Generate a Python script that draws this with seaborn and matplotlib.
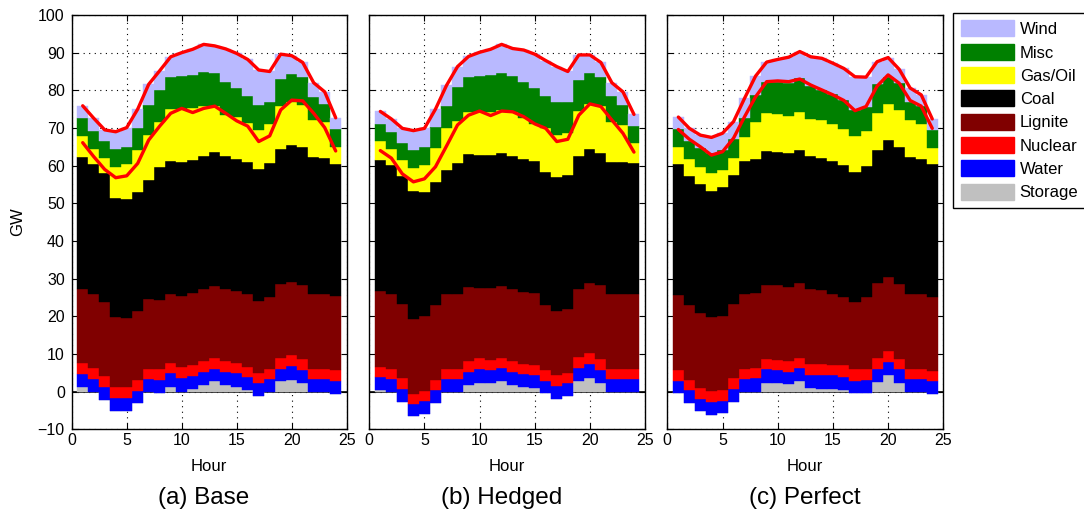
import numpy as np
import pandas as pd
import matplotlib
matplotlib.use("Agg")
import matplotlib.pyplot as plt
from matplotlib.patches import Patch
import seaborn as sns

hours = list(range(1, 25))

sources = ["Storage", "Water", "Nuclear", "Lignite", "Coal", "Gas/Oil", "Misc", "Wind"]
source_colors = ["#c0c0c0", "#0000ff", "#ff0000", "#800000", "#000000", "#ffff00", "#008000", "#b9b9ff"]

# ---- Base scenario: hourly generation by source (GW) ----
base_storage = [1.1, 0, -2.2, -5.1, -5.1, -3.1, 0, -0.4, 1.2, 0, 0.7, 1.7, 2.7, 1.8, 1.3, 0.4, -1.2, 0, 2.7, 3.2, 2.4, 0, 0, -0.6]
base_water = [3.5, 3.4, 3.4, 3.4, 3.4, 3.4, 3.3, 3.6, 3.7, 3.7, 3.5, 3.6, 3.4, 3.3, 3.6, 3.4, 3.5, 3.3, 3.4, 3.5, 3.4, 3.3, 3.3, 3.4]
base_nuclear = [2.9, 2.8, 2.9, 2.9, 2.9, 2.9, 2.8, 2.7, 2.7, 2.8, 2.9, 2.8, 2.9, 3.0, 2.7, 2.8, 2.7, 2.8, 2.9, 2.9, 2.9, 2.8, 2.8, 2.9]
base_lignite = [19.7, 19.8, 19.8, 18.7, 18.3, 18.2, 18.4, 18.4, 18.2, 19.0, 19.0, 19.1, 19.1, 19.1, 19.0, 19.2, 19.0, 19.1, 19.7, 19.6, 19.7, 19.9, 19.9, 19.8]
base_coal = [35.0, 34.4, 34.1, 31.5, 31.6, 31.6, 31.6, 35.4, 35.5, 35.6, 35.5, 35.4, 35.4, 35.4, 35.2, 35.1, 35.1, 35.4, 35.8, 36.4, 36.5, 36.3, 35.9, 34.9]
base_gas = [5.7, 4.1, 3.9, 8.3, 9.3, 11.2, 12.0, 12.0, 13.7, 14.0, 13.6, 13.2, 12.4, 10.8, 11.2, 10.3, 10.4, 10.5, 11.3, 11.4, 11.2, 9.8, 9.6, 4.6]
base_misc = [4.7, 4.7, 4.6, 4.7, 4.6, 5.9, 7.9, 8.4, 8.6, 8.7, 8.9, 9.1, 8.6, 8.9, 7.5, 7.3, 6.5, 5.8, 7.3, 7.3, 7.4, 6.2, 4.8, 4.6]
base_wind = [3.3, 3.4, 3.0, 4.6, 5.1, 4.9, 5.6, 5.1, 5.3, 6.2, 6.8, 7.3, 7.3, 8.7, 9.3, 9.7, 9.4, 8.1, 6.5, 4.9, 3.9, 3.7, 3.3, 3.1]
base_net_load = [66.1, 62.4, 59.0, 56.8, 57.3, 60.6, 66.8, 70.5, 73.9, 75.2, 74.1, 75.2, 75.8, 73.9, 71.9, 70.5, 66.4, 67.9, 74.8, 77.4, 77.2, 73.9, 70.1, 63.9]

# ---- Hedged scenario ----
hedged_storage = [0.4, 0, -2.7, -6.6, -6.0, -2.9, 0, 0, 1.8, 2.4, 2.2, 2.7, 1.8, 1.1, 0.9, -0.4, -1.9, -1.2, 2.9, 3.7, 2.3, 0, 0, 0]
hedged_water = [3.4, 3.3, 3.3, 3.2, 3.4, 3.3, 3.3, 3.3, 3.4, 3.5, 3.5, 3.5, 3.4, 3.5, 3.4, 3.2, 3.4, 3.4, 3.5, 3.6, 3.5, 3.3, 3.3, 3.3]
hedged_nuclear = [2.8, 2.8, 2.9, 2.9, 2.9, 2.8, 2.8, 2.8, 2.9, 2.9, 2.8, 2.8, 2.9, 2.8, 2.9, 3.0, 2.8, 2.8, 2.9, 2.9, 2.8, 2.8, 2.8, 2.8]
hedged_lignite = [20.0, 19.9, 19.7, 19.7, 19.7, 19.7, 19.8, 19.8, 19.8, 18.8, 19.0, 19.1, 19.1, 19.1, 18.9, 17.1, 17.1, 17.0, 17.9, 18.7, 19.7, 19.7, 19.7, 19.7]
hedged_coal = [34.9, 34.1, 34.1, 34.2, 33.0, 32.8, 32.9, 34.7, 35.1, 35.3, 35.3, 35.2, 35.4, 35.3, 35.1, 35.4, 35.5, 35.5, 35.4, 35.4, 35.0, 35.1, 35.1, 34.8]
hedged_gas = [5.0, 4.3, 4.2, 6.1, 7.1, 8.9, 11.1, 11.2, 11.3, 11.3, 11.5, 11.5, 11.6, 10.8, 9.9, 11.6, 11.2, 11.3, 11.9, 12.1, 12.5, 10.7, 9.8, 5.4]
hedged_misc = [4.6, 4.6, 4.4, 4.7, 4.9, 5.6, 5.9, 9.2, 9.3, 9.6, 9.7, 9.9, 9.6, 9.6, 9.5, 8.6, 8.7, 8.2, 8.3, 8.1, 7.7, 6.9, 5.3, 4.5]
hedged_wind = [3.3, 3.4, 4.0, 5.1, 4.9, 4.8, 5.5, 5.3, 5.4, 6.3, 6.9, 7.5, 7.3, 8.5, 9.0, 9.4, 9.5, 8.0, 6.6, 4.9, 3.9, 3.5, 3.6, 3.1]
hedged_net_load = [64.0, 62.0, 57.8, 55.7, 56.5, 59.7, 65.2, 70.8, 73.4, 74.5, 73.3, 74.5, 74.3, 73.0, 71.1, 69.9, 66.4, 67.0, 73.4, 76.4, 75.7, 72.1, 68.6, 63.6]

# ---- Perfect-foresight scenario ----
perfect_storage = [-0.4, -3.1, -5.2, -6.3, -5.8, -2.7, 0, 0, 2.4, 2.4, 1.9, 2.7, 0.9, 0.8, 0.8, 0.4, -0.4, -0.3, 2.5, 4.3, 2.4, 0, 0, -0.7]
perfect_water = [3.2, 3.5, 3.2, 3.6, 3.4, 3.3, 3.3, 3.6, 3.5, 3.3, 3.4, 3.6, 3.4, 3.5, 3.5, 3.6, 3.2, 3.5, 3.6, 3.5, 3.5, 3.3, 3.3, 3.4]
perfect_nuclear = [3.0, 2.8, 2.9, 2.8, 2.9, 2.9, 2.8, 2.8, 2.7, 2.8, 2.8, 2.7, 3.0, 3.0, 2.9, 3.0, 3.1, 2.9, 2.8, 2.9, 2.8, 2.8, 2.8, 2.9]
perfect_lignite = [19.8, 19.7, 19.9, 19.7, 19.6, 19.9, 19.9, 19.9, 19.8, 19.7, 19.8, 19.9, 19.9, 19.8, 18.8, 18.0, 17.9, 18.9, 19.9, 19.7, 19.8, 19.9, 19.9, 19.6]
perfect_coal = [34.8, 34.4, 34.2, 33.6, 34.1, 34.1, 35.2, 35.5, 35.6, 35.5, 35.4, 35.2, 35.4, 35.0, 35.2, 35.2, 34.6, 35.0, 35.4, 36.4, 36.5, 36.4, 35.8, 35.2]
perfect_gas = [4.6, 4.5, 4.6, 4.6, 4.6, 4.6, 6.3, 9.9, 9.9, 9.9, 10.0, 10.1, 9.8, 9.9, 9.9, 9.5, 9.5, 9.2, 9.7, 9.7, 9.8, 9.6, 9.3, 4.4]
perfect_misc = [4.6, 4.7, 5.0, 5.3, 5.4, 4.9, 5.1, 7.1, 8.3, 8.7, 8.7, 9.0, 8.7, 8.1, 7.8, 7.7, 6.9, 6.5, 7.7, 7.1, 7.1, 5.0, 4.8, 4.7]
perfect_wind = [3.3, 3.4, 3.5, 4.2, 4.4, 4.7, 5.3, 5.0, 5.3, 5.9, 6.8, 7.1, 7.8, 8.4, 8.3, 8.4, 8.8, 7.8, 6.0, 5.1, 3.7, 3.6, 2.9, 2.9]
perfect_net_load = [69.6, 67.0, 65.0, 62.8, 63.7, 67.3, 73.0, 78.3, 82.3, 82.5, 82.3, 83.0, 81.4, 80.1, 78.8, 77.3, 74.6, 75.7, 81.1, 84.1, 81.9, 77.3, 75.8, 69.9]

panel_titles = ["(a) Base", "(b) Hedged", "(c) Perfect"]

scenarios = [
    [base_storage, base_water, base_nuclear, base_lignite, base_coal, base_gas, base_misc, base_wind],
    [hedged_storage, hedged_water, hedged_nuclear, hedged_lignite, hedged_coal, hedged_gas, hedged_misc, hedged_wind],
    [perfect_storage, perfect_water, perfect_nuclear, perfect_lignite, perfect_coal, perfect_gas, perfect_misc, perfect_wind],
]
net_loads = [base_net_load, hedged_net_load, perfect_net_load]

sns.set_style("ticks")
plt.rcParams["font.family"] = ["Liberation Sans", "DejaVu Sans"]
plt.rcParams.update({
    "text.color": "black",
    "axes.labelcolor": "black",
    "xtick.color": "black",
    "ytick.color": "black",
    "axes.edgecolor": "black",
})

W, H = 1084, 516
fig = plt.figure(figsize=(W / 100, H / 100), dpi=100)

# axes boxes in pixels
ax_left = [71.7, 369.3, 667.3]
ax_width = [275.0, 275.7, 276.0]
ax_top, ax_bottom = 15.0, 429.3
title_x = [204, 502, 805]

for i in range(3):
    ax = fig.add_axes([ax_left[i] / W, 1 - ax_bottom / H,
                       ax_width[i] / W, (ax_bottom - ax_top) / H])
    ax.set_axisbelow(True)
    ax.grid(True, linestyle=(0, (1, 4)), color="black", linewidth=0.8)
    ax.axhline(0, color="black", linewidth=1.2, zorder=1.5)

    # stacked hourly blocks, bottom to top
    base = np.zeros(len(hours))
    for vals, col in zip(scenarios[i], source_colors):
        vals = np.asarray(vals, dtype=float)
        ax.bar(hours, vals, width=1.0, bottom=base, color=col,
               edgecolor=col, linewidth=0.3, zorder=2)
        base = base + vals
    total = base

    lines = pd.DataFrame({
        "hour": hours * 2,
        "GW": list(total) + list(net_loads[i]),
        "kind": ["total"] * len(hours) + ["net"] * len(hours),
    })
    sns.lineplot(data=lines, x="hour", y="GW", units="kind", estimator=None,
                 color="#ff0000", linewidth=2.4, ax=ax, zorder=5, legend=False)

    ax.set_xlim(0, 25)
    ax.set_ylim(-10, 100)
    ax.set_xticks(range(0, 26, 5))
    ax.set_yticks(range(-10, 101, 10))
    ax.tick_params(direction="in", top=True, right=True, length=4, width=0.8,
                   labelsize=11.5, colors="black")
    ax.tick_params(axis="x", pad=3)
    ax.tick_params(axis="y", pad=5)
    if i > 0:
        ax.set_yticklabels([])
    ax.set_xlabel("")
    ax.set_ylabel("")
    for sp in ax.spines.values():
        sp.set_visible(True)
        sp.set_color("black")
        sp.set_linewidth(1.0)

    cx = (ax_left[i] + ax_width[i] / 2) / W
    fig.text(cx, 1 - 466.7 / H, "Hour", ha="center", va="center", fontsize=12,
             color="black")
    fig.text(title_x[i] / W, 1 - 498 / H, panel_titles[i], ha="center",
             va="center", fontsize=17.5, color="black")

fig.text(18 / W, 1 - 222 / H, "GW", rotation=90, ha="center", va="center",
         fontsize=12, color="black")

legend_order = ["Wind", "Misc", "Gas/Oil", "Coal", "Lignite", "Nuclear", "Water", "Storage"]
color_of = dict(zip(sources, source_colors))
handles = [Patch(facecolor=color_of[s], edgecolor=color_of[s]) for s in legend_order]
leg = fig.legend(handles, legend_order, loc="upper left",
                 bbox_to_anchor=(953 / W, 1 - 13 / H), frameon=True, fancybox=False,
                 edgecolor="black", framealpha=1, fontsize=12,
                 handlelength=3.2, handleheight=1.1, labelspacing=0.4,
                 handletextpad=0.35, borderpad=0.45, borderaxespad=0)
leg.get_frame().set_linewidth(1.0)
for t in leg.get_texts():
    t.set_color("black")

fig.savefig("out.png", dpi=100)
